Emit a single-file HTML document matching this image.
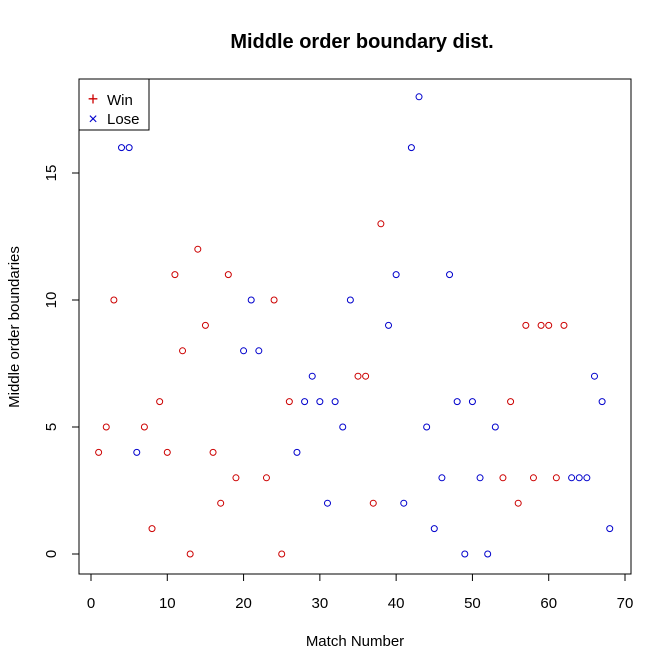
<!DOCTYPE html>
<html><head><meta charset="utf-8"><style>
html,body{margin:0;padding:0;background:#fff;}
svg{display:block;font-family:"Liberation Sans",Arial,sans-serif;}
</style></head><body>
<svg id="chart" width="672" height="671" viewBox="0 0 672 671" xmlns="http://www.w3.org/2000/svg">
<rect width="672" height="671" fill="#fff"/>
<text x="362" y="48" text-anchor="middle" font-size="20" font-weight="bold">Middle order boundary dist.</text>
<rect x="79" y="79" width="552" height="495" fill="none" stroke="#000"/>
<g id="xaxis"></g>
<g id="yaxis"></g>
<text x="355" y="646" text-anchor="middle" font-size="15">Match Number</text>
<text transform="translate(19,327) rotate(-90)" text-anchor="middle" font-size="15">Middle order boundaries</text>
<g id="points"></g>
<g>
<rect x="79" y="79" width="70" height="51" fill="#fff" stroke="#000"/>
<g><text x="93" y="105" text-anchor="middle" font-size="18" fill="#cc0000">+</text><text x="107" y="105" font-size="15">Win</text></g>
<g><text x="93" y="124" text-anchor="middle" font-size="16" fill="#0000cc">×</text><text x="107" y="124" font-size="15">Lose</text></g>
</g>
</svg>
<script>
const values = [4,5,10,16,16,4,5,1,6,4,11,8,0,12,9,4,2,11,3,8,10,8,3,10,0,6,4,6,7,6,2,6,5,10,7,7,2,13,9,11,2,16,18,5,1,3,11,6,0,6,3,0,5,3,6,2,9,3,9,9,3,9,3,3,3,7,6,1];
const results = ["W","W","W","L","L","L","W","W","W","W","W","W","W","W","W","W","W","W","W","L","L","L","W","W","W","W","L","L","L","L","L","L","L","L","W","W","W","W","L","L","L","L","L","L","L","L","L","L","L","L","L","L","L","W","W","W","W","W","W","W","W","W","L","L","L","L","L","L"];
const xTicks = [0,10,20,30,40,50,60,70];
const yTicks = [0,5,10,15];
const NS="http://www.w3.org/2000/svg";
const xs = v => 91 + v*(534/70);
const ys = v => 554 - v*(381/15);
function mk(tag, attrs, parent){const e=document.createElementNS(NS,tag);for(const k in attrs)e.setAttribute(k,attrs[k]);parent.appendChild(e);return e;}
const xa=document.getElementById('xaxis');
mk('line',{x1:xs(0),x2:xs(70),y1:574,y2:574,stroke:'#000'},xa);
xTicks.forEach(t=>{
  const g=mk('g',{},xa);
  
  
  mk('line',{x1:xs(t),x2:xs(t),y1:574,y2:581,stroke:'#000'},g);
  const tx=mk('text',{x:xs(t),y:608,'text-anchor':'middle','font-size':'15'},g);tx.textContent=t;
});
const ya=document.getElementById('yaxis');
mk('line',{x1:79,x2:79,y1:ys(0),y2:ys(15),stroke:'#000'},ya);
yTicks.forEach(t=>{
  const g=mk('g',{},ya);
  
  
  mk('line',{x1:72,x2:79,y1:ys(t),y2:ys(t),stroke:'#000'},g);
  const tx=mk('text',{transform:`translate(56,${ys(t)}) rotate(-90)`,'text-anchor':'middle','font-size':'15'},g);tx.textContent=t;
});
const pg=document.getElementById('points');
values.forEach((v,i)=>{
  const c=mk('circle',{cx:xs(i+1),cy:ys(v),r:3,fill:'none','stroke-width':1,stroke:results[i]==='W'?'#cc0000':'#0000cc'},pg);
  
  
});
</script>
</body></html>
